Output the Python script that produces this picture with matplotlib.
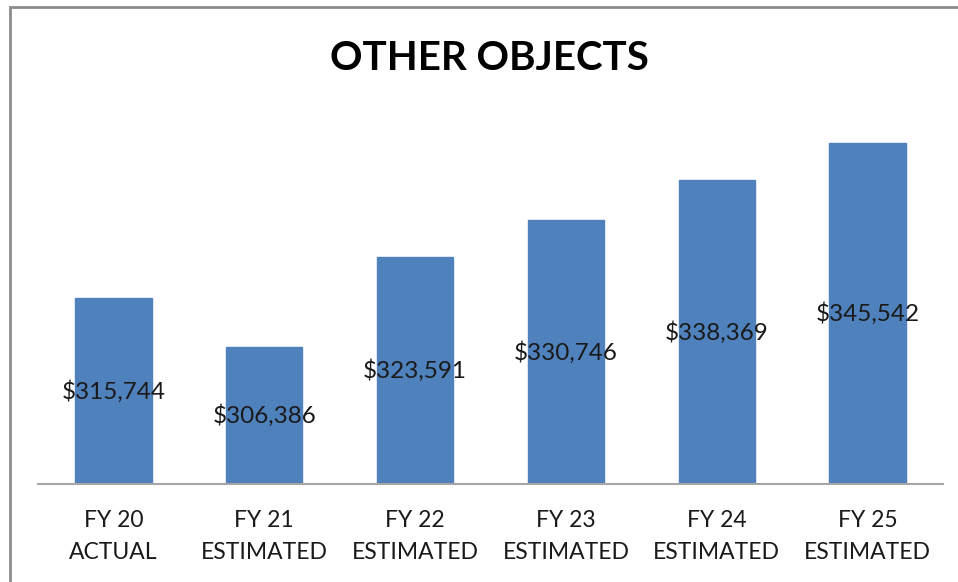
import matplotlib
matplotlib.use("Agg")
import matplotlib.pyplot as plt
from matplotlib.patches import Rectangle

categories = ["FY 20\nACTUAL", "FY 21\nESTIMATED", "FY 22\nESTIMATED",
              "FY 23\nESTIMATED", "FY 24\nESTIMATED", "FY 25\nESTIMATED"]
values = [315744, 306386, 323591, 330746, 338369, 345542]
title = "OTHER OBJECTS"

plt.rcParams["font.family"] = ["Lato", "DejaVu Sans"]

W, H = 958, 582
fig = plt.figure(figsize=(W / 100, H / 100), dpi=100)
fig.patch.set_facecolor("white")

# chart frame (runs off the right and bottom edges)
fig.patches.append(Rectangle((10 / W, -0.1), 1.2, 1 - 7 / H + 0.1,
                             transform=fig.transFigure, fill=False,
                             edgecolor="#8c8c8c", linewidth=2))

ax = fig.add_axes([38 / W, 1 - 484 / H, (943 - 38) / W, 364 / H])
ymin, ymax = 280000, 350000
x = list(range(len(categories)))
ax.bar(x, [v - ymin for v in values], bottom=ymin, width=0.505,
       color="#4F81BD", edgecolor="#4F81BD", zorder=2)
ax.set_xlim(-0.5, len(categories) - 0.5)
ax.set_ylim(ymin, ymax)

for xi, v in zip(x, values):
    ax.text(xi, (v + ymin) / 2, f"${v:,}", ha="center", va="center",
            fontsize=17.5, color="#1a1a1a", zorder=3)

for s in ["top", "right", "left"]:
    ax.spines[s].set_visible(False)
ax.spines["bottom"].set_color("#a6a6a6")
ax.spines["bottom"].set_linewidth(1.5)
ax.set_yticks([])
ax.set_xticks(x)
ax.set_xticklabels(categories, fontsize=16.5, color="#1a1a1a", linespacing=1.62)
ax.tick_params(axis="x", length=0, pad=19)

fig.text(489 / W, 1 - 59 / H, title, ha="center", va="center",
         fontsize=29, fontweight="bold", color="black")

fig.savefig("out.png", dpi=100)
